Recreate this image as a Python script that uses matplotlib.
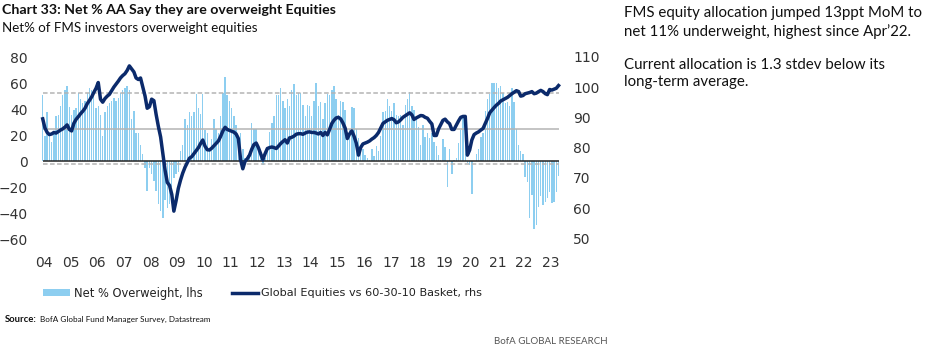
import matplotlib
matplotlib.use('Agg')
import matplotlib.pyplot as plt
import pandas as pd
from matplotlib.patches import Rectangle
from matplotlib.lines import Line2D

# monthly survey readings, Apr 2004 .. Aug 2023
# net % of FMS investors overweight equities (lhs, bars)
net_ow = [
    51, 20, 38, 20, 15, 22, 35, 36, 43,                      # 2004 (Apr-Dec)
    51, 55, 58, 42, 36, 40, 41, 53, 48, 45, 47, 53,          # 2005
    57, 55, 52, 41, 43, 36, 20, 38, 43, 45, 47, 49,          # 2006
    47, 49, 53, 55, 57, 58, 55, 33, 39, 22, 22, 13,          # 2007
    6, -5, -23, -5, -10, -15, -23, -33, -38, -44, -30, -36,  # 2008
    -33, -20, -13, -10, -8, 8, 13, 33, 28, 38, 35, 38,       # 2009
    52, 41, 37, 52, 24, 22, 10, 17, 33, 25, 22, 35,          # 2010
    53, 65, 51, 47, 41, 35, 28, 18, 22, 10, 3, 5,            # 2011
    8, 30, 25, 25, 13, 8, -3, 3, 8, 23, 30, 35,              # 2012
    51, 51, 57, 47, 41, 48, 43, 55, 60, 51, 53, 53,          # 2013
    44, 35, 44, 43, 35, 47, 61, 43, 46, 33, 45, 52,          # 2014
    51, 55, 58, 48, 36, 47, 46, 40, 23, 25, 42, 41,          # 2015
    25, 18, 13, 10, 5, 3, 1, 10, 4, 12, 8, 20,               # 2016
    38, 39, 48, 43, 39, 45, 36, 35, 36, 28, 44, 48,          # 2017
    54, 43, 40, 33, 27, 13, 28, 19, 22, 18, 22, 15,          # 2018
    12, 5, 1, 17, 11, -20, 10, -10, 1, 3, 14, 24,            # 2019
    34, 30, -1, -3, -25, 0, 6, 10, 19, 22, 39, 48,           # 2020
    52, 61, 61, 61, 57, 58, 53, 45, 46, 43, 57, 46,          # 2021
    25, 13, 8, 6, -12, -16, -44, -26, -52, -49, -35, -27,    # 2022
    -34, -31, -28, -24, -32, -31, -24, -11,                  # 2023 (Jan-Aug)
]

# global equities vs 60-30-10 basket (rhs, line)
eq_vs_basket = [
    89.5, 86.5, 85, 84.3, 84.5, 85, 84.8, 85.3, 85.8,
    86.2, 86.8, 87.5, 86, 85.5, 88, 89.3, 90.2, 91.2, 92, 93, 94.5,
    95.6, 96.8, 98.2, 99.6, 101.5, 96, 95, 96.2, 97, 97.6, 98.8, 100,
    101, 102, 103, 103.8, 104.4, 105.5, 107, 106, 105, 103, 102.5, 103,
    100, 97, 93, 93.5, 96, 95.5, 91, 87, 83.5, 78, 72.5, 68.5,
    67.5, 64.5, 59, 62.5, 66.5, 69.3, 71.6, 73.5, 75, 76.5, 77, 78,
    79, 80, 81.3, 82.5, 80.5, 79.3, 79.2, 79.8, 80.6, 81.4, 82.2, 83.7,
    85.5, 86.7, 86, 85.7, 85.4, 85.1, 84.5, 83, 76, 73, 75.5, 76.3,
    77.5, 79.5, 81, 81.5, 80, 78, 76, 78, 79.7, 80, 80.2, 80,
    79.7, 80.5, 81.3, 82, 82.6, 81.5, 83.2, 83.4, 83.8, 84.4, 84.6, 84.6,
    84.4, 84.8, 85.1, 85.2, 85, 85, 84.8, 84.5, 85, 84, 85, 84.2,
    86, 88, 89, 89.8, 90, 89.5, 88.2, 86.5, 83, 84.5, 85.5, 83.8,
    81.5, 77.5, 80, 81.2, 81.5, 81.8, 82.2, 82.8, 83.3, 84, 85, 86.5,
    88, 88.5, 89, 89.3, 89.6, 89.2, 88.2, 88.5, 89.2, 90, 90.5, 91,
    91.5, 90.8, 89.3, 89.8, 90.2, 90.6, 90.5, 90, 89.7, 88.7, 87.8, 84,
    84, 86.2, 87.5, 89, 89.4, 88.5, 87.9, 86, 86, 87.4, 88.8, 90,
    90.3, 90.3, 77.5, 79.2, 82.5, 84.3, 84.8, 85.2, 85.8, 86.3, 88, 89.6,
    91.5, 92.4, 93.2, 94, 94.6, 95.4, 95.8, 96.2, 96.6, 97.2, 97.8, 98.3,
    98.8, 98.5, 97, 97.2, 97.8, 98, 98.2, 98.5, 97.8, 98, 98.5, 98.9,
    98.5, 97.8, 97.5, 99.2, 99, 99.3, 99.6, 100.5,
]

# long-term average and +/- 1 stdev of the net % overweight
avgOW = 25.4
sdOW = 27.2

years = list(range(2004, 2024))
yearLabels = ['%02d' % (y % 100) for y in years]

barColor = '#8DCEF0'
lineColor = '#0B2A6B'
greyLine = '#b4b4b4'
tickColor = '#333333'

W, H = 928, 351
dates = pd.date_range('2004-04-01', periods=len(net_ow), freq='MS') + pd.Timedelta(days=14)

fig = plt.figure(figsize=(W / 100, H / 100), dpi=100)
ax = fig.add_axes([33 / W, 1 - 252 / H, 533 / W, 207 / H])

ax.bar(dates, net_ow, width=19, color=barColor, linewidth=0, zorder=2)
ax.hlines([avgOW + sdOW, avgOW - sdOW], dates[0], dates[-1], colors=greyLine,
          linestyles=(0, (3, 1.6)), linewidth=1.1, zorder=3)
ax.hlines(avgOW, dates[0], dates[-1], colors=greyLine, linewidth=1.1, zorder=3)
ax.hlines(0, dates[0], dates[-1], colors='#222222', linewidth=1.1, zorder=4)

ax.set_ylim(-70, 90)
ax.set_yticks(range(-60, 81, 20))
ax.set_xlim(pd.Timestamp('2003-12-04'), pd.Timestamp('2023-11-25'))
ax.set_xticks([pd.Timestamp('%d-01-01' % y) for y in years])
ax.set_xticklabels(yearLabels, ha='left')

ax2 = ax.twinx()
ax2.plot(dates, eq_vs_basket, color=lineColor, linewidth=2.5, solid_joinstyle='round')
ax2.set_ylim(45.5, 113.9)
ax2.set_yticks(range(50, 111, 10))

for a in (ax, ax2):
    for s in a.spines.values():
        s.set_visible(False)
    a.tick_params(length=0, labelsize=10, labelcolor=tickColor)
ax.tick_params(axis='x', pad=3)
ax.tick_params(axis='y', pad=4)
ax2.tick_params(axis='y', pad=5)

# titles
fig.text(2 / W, 1 - 10 / H, 'Chart 33: Net % AA Say they are overweight Equities',
         fontsize=10.2, fontweight='bold', family='Lato', va='center', color='#111111')
fig.text(2 / W, 1 - 28 / H, 'Net% of FMS investors overweight equities',
         fontsize=9.6, family='Lato', va='center', color='#111111')

# commentary on the right
fig.text(624 / W, 1 - 22.5 / H,
         'FMS equity allocation jumped 13ppt MoM to\nnet 11% underweight, highest since Apr\u201922.',
         fontsize=10.8, family='Lato', va='center', linespacing=1.3, color='#111111')
fig.text(624 / W, 1 - 73.5 / H,
         'Current allocation is 1.3 stdev below its\nlong-term average.',
         fontsize=10.8, family='Lato', va='center', linespacing=1.3, color='#111111')

# legend, laid out by hand under the plot
legY = 1 - 293 / H
fig.patches.append(Rectangle((43 / W, 1 - 296 / H), 27 / W, 7 / H, transform=fig.transFigure,
                             facecolor=barColor, edgecolor='none'))
fig.text(74 / W, legY, 'Net % Overweight, lhs', fontsize=8.3, va='center', color='#222222')
fig.lines.append(Line2D([232 / W, 258 / W], [legY, legY], transform=fig.transFigure,
                        color=lineColor, linewidth=2.5))
fig.text(261 / W, legY, 'Global Equities vs 60-30-10 Basket, rhs', fontsize=8.1,
         va='center', color='#222222')

# source and footer
renderer = fig.canvas.get_renderer()
src = fig.text(5 / W, 1 - 319 / H, 'Source:', fontsize=6.8, fontweight='bold',
               family='Lato', va='center', color='#111111')
bb = src.get_window_extent(renderer)
fig.text((bb.x1 + 3) / W, 1 - 319 / H, 'BofA Global Fund Manager Survey, Datastream',
         fontsize=5.9, family='Lato', va='center', color='#111111')
fig.text(608 / W, 1 - 341 / H, 'BofA GLOBAL RESEARCH', fontsize=7, family='Lato',
         ha='right', va='center', color='#555555')

fig.savefig('out.png', dpi=100)
